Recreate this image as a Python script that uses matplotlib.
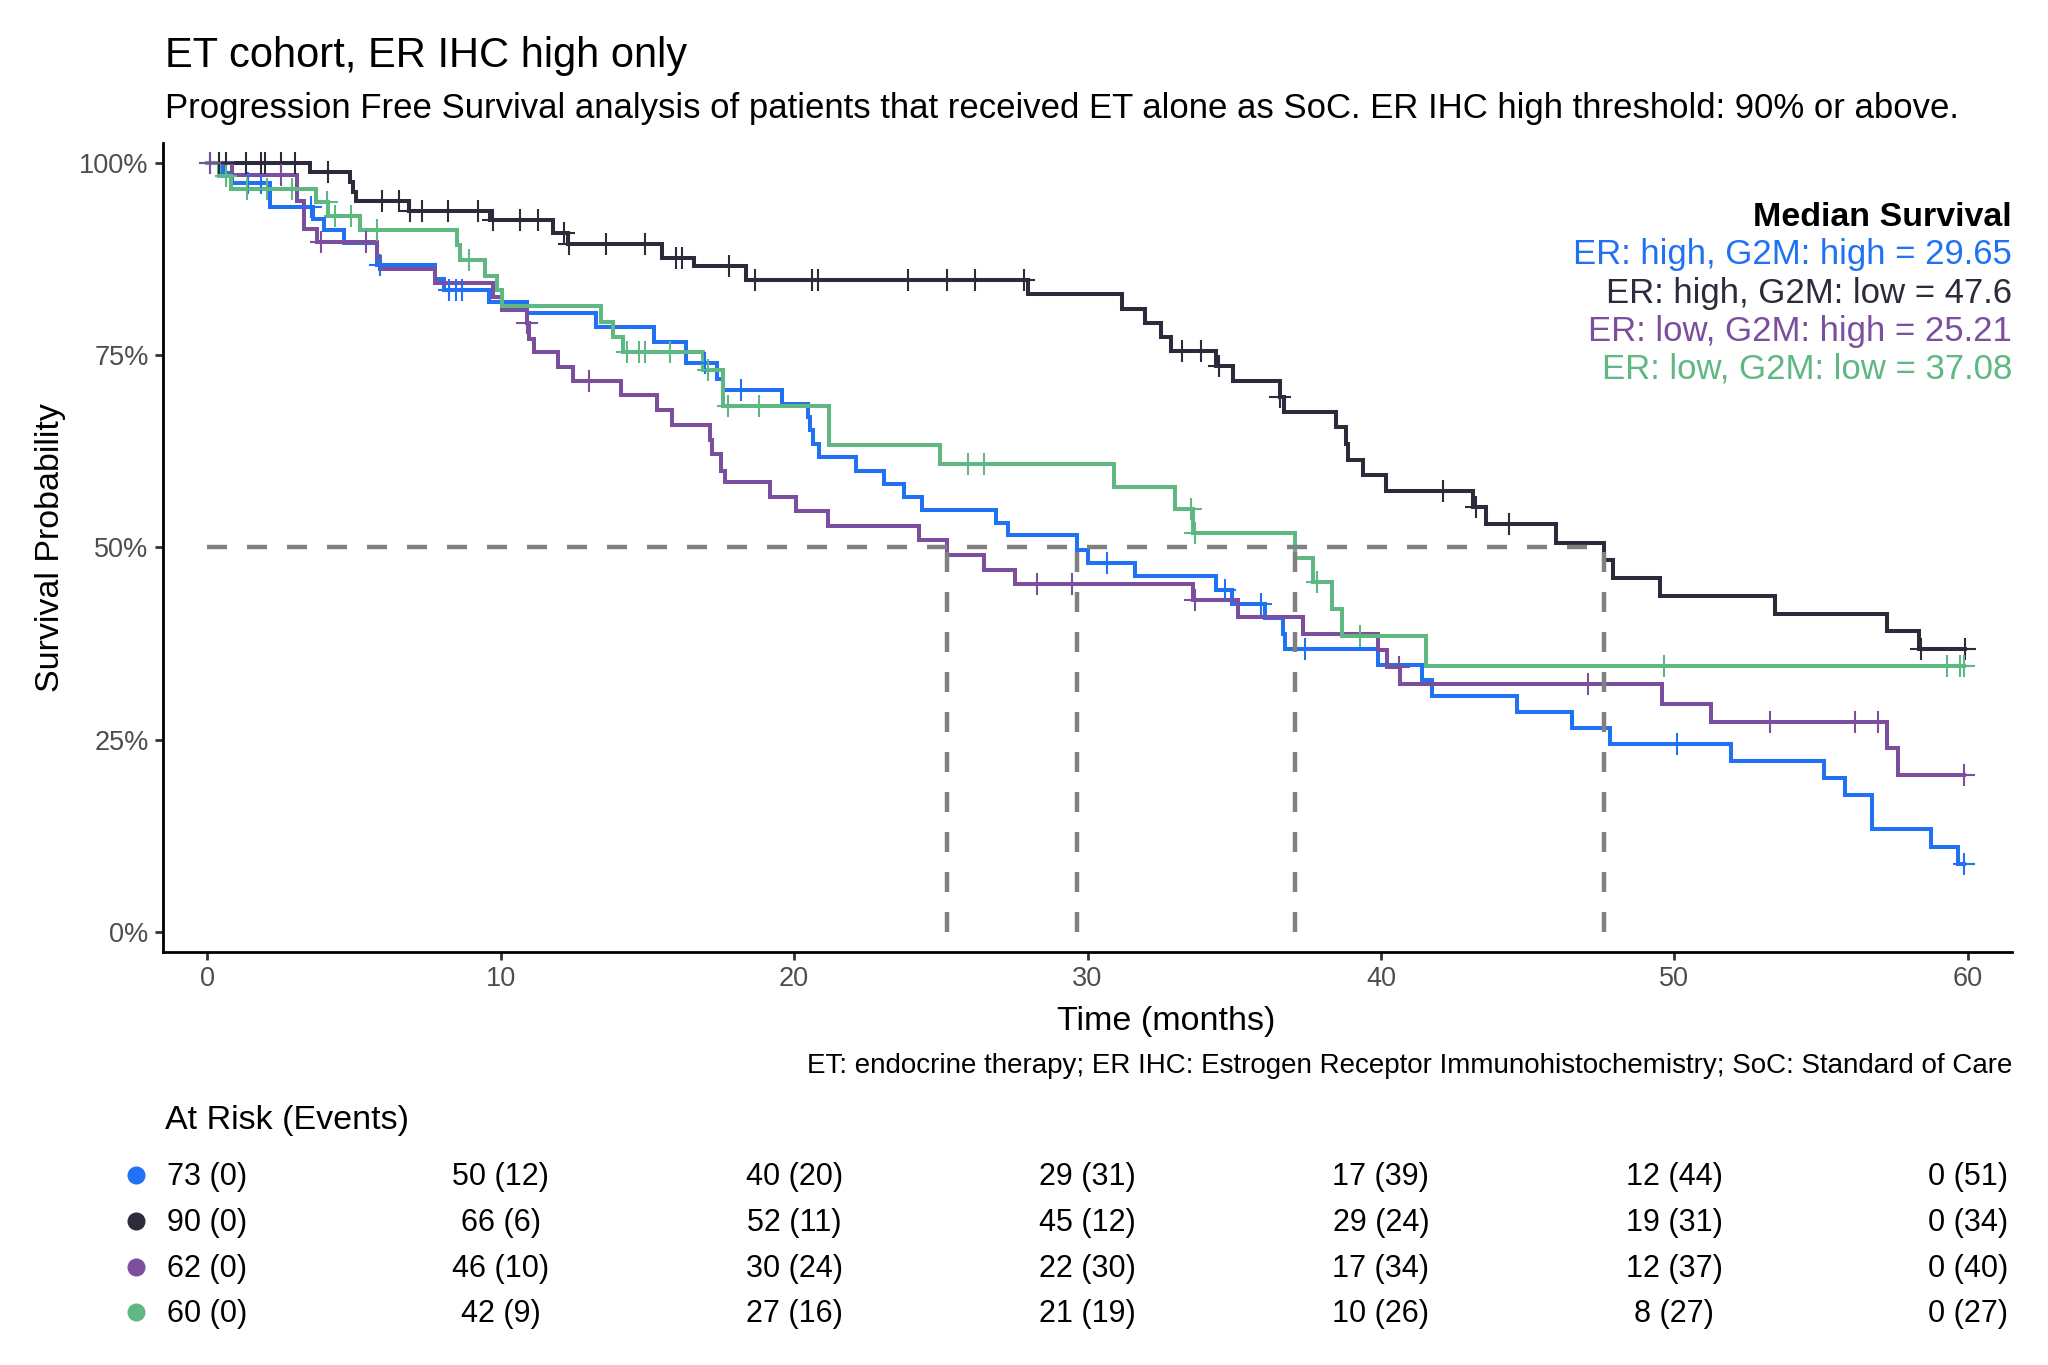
import numpy as np
import matplotlib.pyplot as plt
from matplotlib import transforms

plt.rcParams['font.family'] = ['Liberation Sans', 'DejaVu Sans']

W, H = 2048, 1365
def fx(px): return px / W
def fy(py): return 1 - py / H

# ---- values --------------------------------------------------------------
groups  = ['ER: high, G2M: high', 'ER: high, G2M: low', 'ER: low, G2M: high', 'ER: low, G2M: low']
colors  = ['#2171f4', '#2b2b3b', '#7b4f9e', '#5fb882']
medians = [29.65, 47.6, 25.21, 37.08]

# step times (months) and survival after each step
hh_t = [0.54, 0.85, 2.14, 3.59, 3.97, 4.65, 5.80, 7.77, 8.08, 9.60, 10.89, 13.25, 15.23, 16.30,
        17.37, 17.59, 19.58, 20.47, 20.55, 20.65, 20.85, 22.10, 23.06, 23.74, 24.35, 26.89, 27.29,
        29.65, 30.03, 31.62, 34.38, 34.91, 36.05, 36.67, 36.73, 39.89, 41.41, 41.73, 44.63, 46.52,
        47.81, 51.93, 55.10, 55.82, 56.74, 58.74, 59.66]
hh_s = [0.986, 0.973, 0.942, 0.927, 0.912, 0.895, 0.867, 0.849, 0.835, 0.819, 0.804, 0.787, 0.767,
        0.739, 0.719, 0.705, 0.687, 0.670, 0.652, 0.635, 0.617, 0.600, 0.583, 0.566, 0.549, 0.532,
        0.516, 0.497, 0.480, 0.463, 0.445, 0.426, 0.408, 0.388, 0.368, 0.348, 0.328, 0.307, 0.2865,
        0.266, 0.245, 0.223, 0.201, 0.178, 0.134, 0.111, 0.089]
hh_cens = [0.09, 1.38, 1.84, 3.55, 5.87, 8.23, 8.46, 8.69, 16.98, 18.20, 30.65, 34.69, 35.91,
           37.41, 50.10, 59.88]

hl_t = [3.51, 4.85, 4.96, 5.06, 6.86, 9.63, 11.78, 12.29, 15.51, 16.60, 18.35, 27.96, 31.17, 31.96,
        32.49, 32.83, 34.39, 34.96, 36.57, 36.69, 38.48, 38.81, 38.89, 39.39, 40.18, 43.13, 43.59,
        45.98, 47.60, 47.90, 49.50, 53.44, 57.24, 58.34]
hl_s = [0.988, 0.975, 0.962, 0.950, 0.937, 0.925, 0.908, 0.894, 0.876, 0.865, 0.847, 0.829, 0.810,
        0.792, 0.774, 0.755, 0.7355, 0.7165, 0.696, 0.676, 0.657, 0.635, 0.614, 0.594, 0.5736,
        0.553, 0.530, 0.506, 0.4835, 0.4605, 0.437, 0.414, 0.391, 0.368]
hl_cens = [0.39, 0.65, 1.31, 1.84, 1.96, 2.52, 2.98, 4.12, 5.95, 6.53, 6.91, 7.32, 8.20, 9.22, 9.75,
           10.66, 11.28, 12.16, 12.34, 13.59, 14.93, 15.96, 16.18, 17.77, 18.66, 20.60, 20.82,
           23.89, 25.22, 26.17, 27.85, 33.21, 33.86, 34.47, 36.57, 42.10, 43.25, 44.38, 58.40, 59.90]

lh_t = [0.85, 3.05, 3.28, 3.74, 5.80, 5.87, 7.77, 9.75, 10.06, 10.89, 10.97, 11.12, 11.96, 12.46,
        14.09, 15.31, 15.84, 17.14, 17.21, 17.52, 17.64, 19.19, 20.07, 21.17, 24.27, 25.21, 26.48,
        27.52, 33.60, 35.14, 37.33, 39.89, 40.20, 40.65, 49.59, 51.24, 57.25, 57.64]
lh_s = [0.984, 0.950, 0.914, 0.897, 0.877, 0.862, 0.843, 0.826, 0.808, 0.791, 0.771, 0.754, 0.735,
        0.716, 0.698, 0.678, 0.659, 0.639, 0.622, 0.600, 0.585, 0.566, 0.547, 0.528, 0.5095, 0.490,
        0.471, 0.452, 0.432, 0.410, 0.388, 0.367, 0.345, 0.3225, 0.297, 0.2735, 0.239, 0.204]
lh_cens = [0.09, 2.52, 3.89, 5.41, 10.89, 13.02, 28.29, 29.46, 33.66, 40.62, 47.06, 53.27, 56.16,
           56.96, 59.88]

ll_t = [0.39, 0.82, 3.69, 4.12, 5.19, 8.50, 8.61, 9.48, 9.87, 10.06, 13.41, 13.83, 14.17, 16.91,
        17.56, 21.20, 24.96, 30.89, 32.99, 33.60, 37.08, 37.67, 38.32, 38.66, 41.53]
ll_s = [0.983, 0.966, 0.949, 0.930, 0.912, 0.893, 0.873, 0.853, 0.834, 0.814, 0.793, 0.774, 0.754,
        0.731, 0.684, 0.633, 0.608, 0.579, 0.550, 0.519, 0.487, 0.455, 0.420, 0.385, 0.346]
ll_cens = [0.65, 1.35, 2.02, 2.87, 4.09, 4.35, 4.91, 5.77, 8.92, 14.32, 14.70, 14.93, 15.77, 17.06,
           17.74, 18.81, 25.92, 26.48, 33.52, 33.65, 37.81, 39.29, 49.64, 59.30, 59.73, 59.88]

steps = [(hh_t, hh_s, hh_cens), (hl_t, hl_s, hl_cens), (lh_t, lh_s, lh_cens), (ll_t, ll_s, ll_cens)]

# at-risk table
risk_times = [0, 10, 20, 30, 40, 50, 60]
hh_risk = [73, 50, 40, 29, 17, 12, 0]; hh_events = [0, 12, 20, 31, 39, 44, 51]
hl_risk = [90, 66, 52, 45, 29, 19, 0]; hl_events = [0, 6, 11, 12, 24, 31, 34]
lh_risk = [62, 46, 30, 22, 17, 12, 0]; lh_events = [0, 10, 24, 30, 34, 37, 40]
ll_risk = [60, 42, 27, 21, 10, 8, 0];  ll_events = [0, 9, 16, 19, 26, 27, 27]
risk = [(hh_risk, hh_events), (hl_risk, hl_events), (lh_risk, lh_events), (ll_risk, ll_events)]

# ---- figure ---------------------------------------------------------------
fig = plt.figure(figsize=(W / 100, H / 100), dpi=100)
ax = fig.add_axes([fx(163.3), fy(951.7), fx(2011.7) - fx(163.3), fy(143.3) - fy(951.7)])

for (t, s, cens), col in zip(steps, colors):
    t = np.asarray(t); s = np.asarray(s); cens = np.asarray(cens)
    xs = np.concatenate([[0], t, [cens.max()]])
    ys = np.concatenate([[1.0], s, [s[-1]]])
    ax.step(xs, ys, where='post', color=col, lw=2.9, zorder=2, solid_joinstyle='miter')
    idx = np.searchsorted(t, cens, side='right')
    cy = np.concatenate([[1.0], s])[idx]
    ax.plot(cens, cy, ls='none', marker='+', ms=16, mew=1.5, color=col, zorder=3)

dash = dict(color='#808080', lw=3.2, dashes=(4.5, 4.5), zorder=4)
ax.plot([0, max(medians)], [0.5, 0.5], **dash)
for m in medians:
    ax.plot([m, m], [0, 0.5], **dash)

ax.set_xlim(-1.5, 61.5)
ax.set_ylim(-0.025, 1.025)
ax.set_xticks(risk_times)
ax.set_yticks([0, 0.25, 0.5, 0.75, 1.0])
ax.set_yticklabels(['0%', '25%', '50%', '75%', '100%'])
ax.tick_params(axis='both', colors='#333333', labelcolor='#4d4d4d', length=5.5, width=2,
               labelsize=19.5, pad=5)
for side in ['top', 'right']:
    ax.spines[side].set_visible(False)
for side in ['left', 'bottom']:
    ax.spines[side].set_linewidth(2.0)
    ax.spines[side].set_color('black')

# titles
fig.text(fx(165), fy(67), 'ET cohort, ER IHC high only', fontsize=30, va='baseline')
fig.text(fx(165), fy(118), 'Progression Free Survival analysis of patients that received ET alone '
         'as SoC. ER IHC high threshold: 90% or above.', fontsize=25, va='baseline')
fig.text(fx(50), (fy(143.3) + fy(951.7)) / 2, 'Survival Probability', fontsize=24.5,
         rotation=90, ha='center', va='center')
fig.text(fx(1166), fy(1030), 'Time (months)', fontsize=24.5, ha='center', va='baseline')

# median survival block
fig.text(fx(2012), fy(225.7), 'Median Survival', fontsize=24.5, fontweight='bold',
         ha='right', va='baseline')
for i, (g, m, col) in enumerate(zip(groups, medians, colors)):
    fig.text(fx(2012), fy(264.3 + 38.2 * i), f'{g} = {m:g}', fontsize=25, color=col,
             ha='right', va='baseline')

fig.text(fx(2012), fy(1073), 'ET: endocrine therapy; ER IHC: Estrogen Receptor '
         'Immunohistochemistry; SoC: Standard of Care', fontsize=20, ha='right', va='baseline')

# at-risk table
fig.text(fx(165), fy(1129), 'At Risk (Events)', fontsize=24.5, va='baseline')
blend = transforms.blended_transform_factory(ax.transData, fig.transFigure)
row_base = [1185, 1231, 1277, 1322]
for (n, ev), col, yb in zip(risk, colors, row_base):
    fig.lines.append(plt.Line2D([fx(136)], [fy(yb - 10)], transform=fig.transFigure,
                                marker='o', ms=12, color=col, ls='none'))
    for tt, a, e in zip(risk_times, n, ev):
        fig.text(tt, fy(yb), f'{a} ({e})', transform=blend, fontsize=22,
                 ha='center', va='baseline')

fig.savefig('out.png', dpi=100)
